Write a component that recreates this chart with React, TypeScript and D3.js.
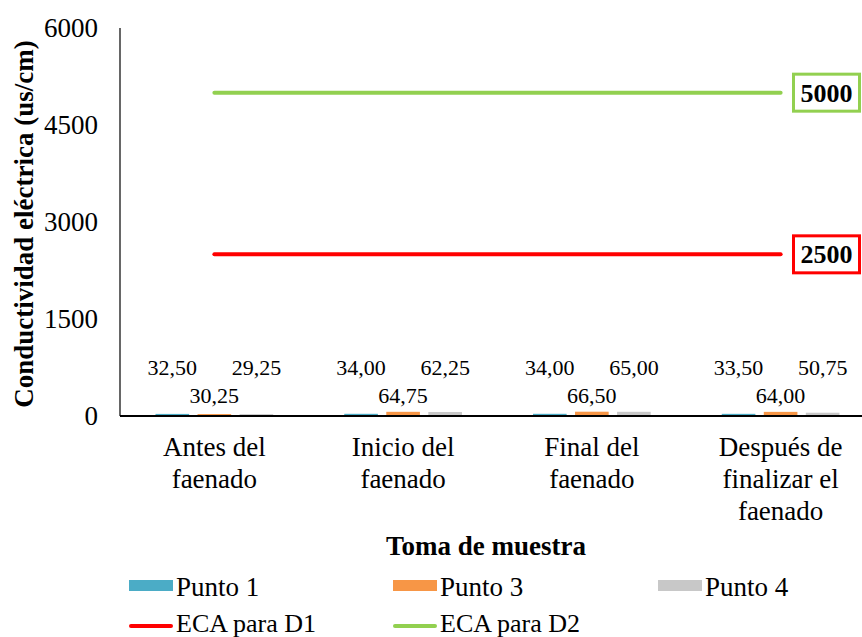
import { scaleBand, scaleLinear } from 'd3'

const categories = ['Antes del faenado', 'Inicio del faenado', 'Final del faenado', 'Después de finalizar el faenado']
const categoryLines = [
  ['Antes del', 'faenado'],
  ['Inicio del', 'faenado'],
  ['Final del', 'faenado'],
  ['Después de', 'finalizar el', 'faenado'],
]
const seriesNames = ['Punto 1', 'Punto 3', 'Punto 4']
const punto1 = [32.5, 34.0, 34.0, 33.5]
const punto3 = [30.25, 64.75, 66.5, 64.0]
const punto4 = [29.25, 62.25, 65.0, 50.75]
const ecaD1 = 2500
const ecaD2 = 5000
const yTicks = [0, 1500, 3000, 4500, 6000]

const seriesColors = ['#4BACC6', '#F79646', '#C8C8C8']
const font = '"Liberation Serif", "Times New Roman", serif'

const W = 862
const H = 637
const left = 120
const right = 875
const top = 28
const bottom = 416

export default function App() {
  const series = [punto1, punto3, punto4]
  const x = scaleBand<string>().domain(categories).range([left, right])
  const inner = scaleBand<string>()
    .domain(seriesNames)
    .range([35.5, 153.2])
    .paddingInner(0.2)
  const y = scaleLinear().domain([0, 6000]).range([bottom, top])

  const center = (i: number) => (x(categories[i]) ?? 0) + x.bandwidth() / 2
  const fmt = (v: number) => v.toFixed(2).replace('.', ',')

  const lineX1 = center(0)
  const lineX2 = center(categories.length - 1)

  return (
    <svg
      width={W}
      height={H}
      style={{ position: 'absolute', left: 0, top: 0, background: '#fff' }}
      fontFamily={font}
    >
      {/* y axis */}
      <line x1={left} x2={left} y1={top} y2={bottom} stroke="#000" strokeWidth={1.2} />
      {yTicks.map((t) => (
        <text key={t} x={98} y={y(t)} dy="0.35em" textAnchor="end" fontSize={27}>
          {t}
        </text>
      ))}
      <text
        transform={`translate(33, 224) rotate(-90)`}
        textAnchor="middle"
        fontSize={27}
        fontWeight="bold"
      >
        Conductividad eléctrica (us/cm)
      </text>

      {/* bars */}
      {categories.map((c, ci) =>
        series.map((vals, si) => {
          const bx = (x(c) ?? 0) + (inner(seriesNames[si]) ?? 0)
          const by = y(vals[ci])
          return (
            <rect
              key={`${c}-${si}`}
              x={bx}
              y={by}
              width={inner.bandwidth()}
              height={bottom - by}
              fill={seriesColors[si]}
            />
          )
        }),
      )}

      {/* data labels */}
      {categories.map((c, ci) =>
        series.map((vals, si) => {
          const bx = (x(c) ?? 0) + (inner(seriesNames[si]) ?? 0) + inner.bandwidth() / 2
          const ly = si === 1 ? 403 : 375
          return (
            <text key={`l-${c}-${si}`} x={bx} y={ly} textAnchor="middle" fontSize={22}>
              {fmt(vals[ci])}
            </text>
          )
        }),
      )}

      {/* x axis */}
      <line x1={left} x2={W} y1={bottom} y2={bottom} stroke="#000" strokeWidth={2} />
      {categoryLines.map((lines, ci) => (
        <text key={ci} textAnchor="middle" fontSize={27}>
          {lines.map((ln, li) => (
            <tspan key={li} x={center(ci)} y={456 + li * 32}>
              {ln}
            </tspan>
          ))}
        </text>
      ))}
      <text x={486} y={555} textAnchor="middle" fontSize={27} fontWeight="bold">
        Toma de muestra
      </text>

      {/* ECA lines */}
      <line x1={lineX1} x2={lineX2} y1={y(ecaD1)} y2={y(ecaD1)} stroke="#FF0000" strokeWidth={4} strokeLinecap="round" />
      <line x1={lineX1} x2={lineX2} y1={y(ecaD2)} y2={y(ecaD2)} stroke="#92D050" strokeWidth={4} strokeLinecap="round" />
      {[
        { v: ecaD2, color: '#92D050' },
        { v: ecaD1, color: '#FF0000' },
      ].map((d) => (
        <g key={d.v}>
          <rect x={793.5} y={y(d.v) - 18.5} width={66} height={37} fill="#fff" stroke={d.color} strokeWidth={3} />
          <text x={826.5} y={y(d.v)} dy="0.35em" textAnchor="middle" fontSize={26} fontWeight="bold">
            {d.v}
          </text>
        </g>
      ))}

      {/* legend */}
      {seriesNames.map((s, i) => {
        const lx = [129, 393, 658][i]
        return (
          <g key={s}>
            <rect x={lx} y={580} width={44} height={11} fill={seriesColors[i]} />
            <text x={lx + 47} y={596} fontSize={27}>
              {s}
            </text>
          </g>
        )
      })}
      {[
        { name: 'ECA para D1', color: '#FF0000', lx: 129 },
        { name: 'ECA para D2', color: '#92D050', lx: 393 },
      ].map((d) => (
        <g key={d.name}>
          <line x1={d.lx + 2} x2={d.lx + 42} y1={626} y2={626} stroke={d.color} strokeWidth={4} strokeLinecap="round" />
          <text x={d.lx + 47} y={632} fontSize={26}>
            {d.name}
          </text>
        </g>
      ))}
    </svg>
  )
}
